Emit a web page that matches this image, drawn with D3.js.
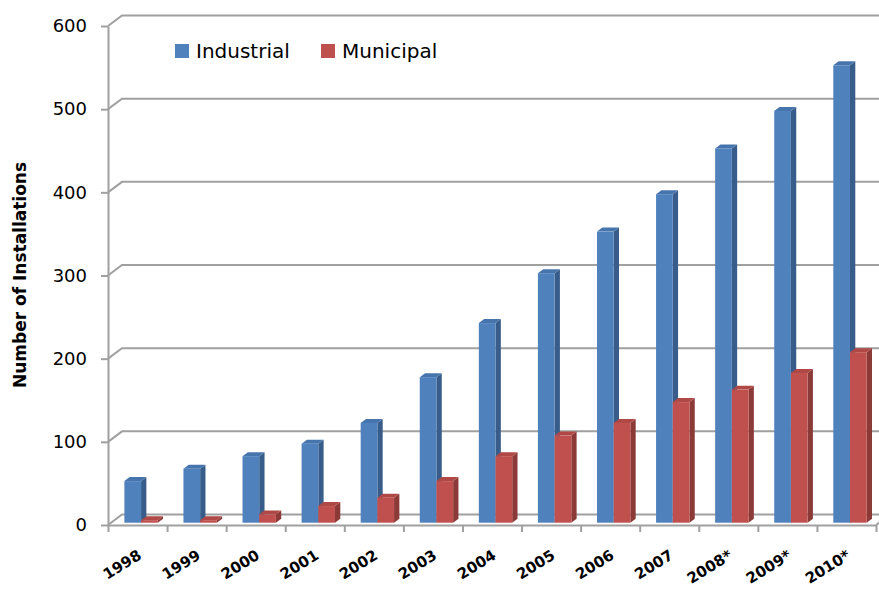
<!DOCTYPE html>
<html>
<head>
<meta charset="utf-8">
<script src="https://cdn.jsdelivr.net/npm/d3@7"></script>
<style>
  body { margin: 0; background: #fff; }
  svg { display: block; }
</style>
</head>
<body>
<div id="chart"></div>
<script>
// chart data
const categories = ['1998', '1999', '2000', '2001', '2002', '2003', '2004', '2005', '2006', '2007', '2008*', '2009*', '2010*'];
const industrial = [50, 65, 80, 95, 120, 175, 240, 300, 350, 395, 450, 495, 550];
const municipal = [3, 3, 10, 20, 30, 50, 80, 105, 120, 145, 160, 180, 205];
const seriesNames = ['Industrial', 'Municipal'];
const yTicks = [0, 100, 200, 300, 400, 500, 600];

const width = 879;
const height = 590;

// 3D look: wall depth offset, and where the bars sit inside that depth
const wallDx = 14, wallDy = -10.5;
const f1 = 0.22, f2 = 0.6;

const colors = {
    Industrial: { front: '#4f81bd', side: '#385d8a', top: '#4674ad' },
    Municipal: { front: '#c0504d', side: '#8c3a38', top: '#b04845' }
};

const svg = d3.select('#chart').append('svg')
    .attr('width', width)
    .attr('height', height);

// Scales
const y = d3.scaleLinear().domain([0, 600]).range([525, 26]);
const x0 = d3.scaleBand().domain(categories).range([108, 876]).padding(0);
const x1 = d3.scaleBand().domain(seriesNames)
    .range([x0.bandwidth() * 0.225, x0.bandwidth() * 0.79]);
const xIdx = d3.scaleLinear().domain([0, categories.length]).range([108, 876]);

// Back wall gridlines (with the little diagonal from the axis)
svg.append('g')
    .selectAll('path')
    .data(yTicks)
    .join('path')
    .attr('d', d => `M${xIdx(0)},${y(d)} L${xIdx(0) + wallDx},${y(d) + wallDy} L${width + 20},${y(d) + wallDy}`)
    .attr('fill', 'none')
    .attr('stroke', '#a0a0a0')
    .attr('stroke-width', 2);

// floor right edge
svg.append('path')
    .attr('d', `M${xIdx(categories.length)},${y(0)} L${xIdx(categories.length) + wallDx},${y(0) + wallDy}`)
    .attr('stroke', '#a0a0a0')
    .attr('stroke-width', 2);

// Bars
const bars = [];
categories.forEach((c, i) => {
    bars.push({ cat: c, series: 'Industrial', value: industrial[i] });
    bars.push({ cat: c, series: 'Municipal', value: municipal[i] });
});

const dx = wallDx * (f2 - f1);
const dy = wallDy * (f2 - f1);

const barG = svg.append('g')
    .selectAll('g')
    .data(bars)
    .join('g');

barG.each(function (d) {
    const g = d3.select(this);
    const xl = x0(d.cat) + x1(d.series) + wallDx * f1;
    const xr = xl + x1.bandwidth();
    const yt = y(d.value) + wallDy * f1;
    const yb = y(0) + wallDy * f1;
    const col = colors[d.series];

    // side face
    g.append('path')
        .attr('d', `M${xr},${yt} L${xr + dx},${yt + dy} L${xr + dx},${yb + dy} L${xr},${yb} Z`)
        .attr('fill', col.side);
    // top face
    g.append('path')
        .attr('d', `M${xl},${yt} L${xr},${yt} L${xr + dx},${yt + dy} L${xl + dx},${yt + dy} Z`)
        .attr('fill', col.top);
    // front face
    g.append('rect')
        .attr('x', xl)
        .attr('y', yt)
        .attr('width', x1.bandwidth())
        .attr('height', yb - yt)
        .attr('fill', col.front);
});

// Add y-axis
const yAxis = svg.append('g')
    .attr('transform', `translate(${xIdx(0)},0)`)
    .call(d3.axisLeft(y).tickValues(yTicks).tickSize(7).tickSizeOuter(0).tickPadding(14));
yAxis.select('.domain').attr('stroke', '#a0a0a0').attr('stroke-width', 2);
yAxis.selectAll('.tick line').attr('stroke', '#a0a0a0').attr('stroke-width', 2);
yAxis.selectAll('.tick text')
    .attr('font-family', 'DejaVu Sans')
    .attr('font-size', '18px')
    .attr('fill', '#000');

// Add x-axis (ticks between categories)
const xAxis = svg.append('g')
    .attr('transform', `translate(0,${y(0)})`)
    .call(d3.axisBottom(xIdx).tickValues(d3.range(categories.length + 1)).tickSize(7).tickSizeOuter(0).tickFormat(''));
xAxis.select('.domain').attr('stroke', '#a0a0a0').attr('stroke-width', 2);
xAxis.selectAll('.tick line').attr('stroke', '#a0a0a0').attr('stroke-width', 2);

// category labels, rotated
svg.append('g')
    .selectAll('text')
    .data(categories)
    .join('text')
    .attr('transform', d => `translate(${x0(d) + x0.bandwidth() / 2 + 5},${y(0) + 33}) rotate(-32)`)
    .attr('text-anchor', 'end')
    .attr('font-family', 'DejaVu Sans')
    .attr('font-weight', 'bold')
    .attr('font-size', '15px')
    .attr('fill', '#000')
    .text(d => d);

// y-axis title
svg.append('text')
    .attr('transform', `translate(26,275) rotate(-90)`)
    .attr('text-anchor', 'middle')
    .attr('font-family', 'DejaVu Sans')
    .attr('font-weight', 'bold')
    .attr('font-size', '17px')
    .attr('fill', '#000')
    .text('Number of Installations');

// Legend
const legendX = [175, 321];
const legend = svg.append('g')
    .selectAll('g')
    .data(seriesNames)
    .join('g')
    .attr('transform', (d, i) => `translate(${legendX[i]},44)`);
legend.append('rect')
    .attr('width', 14)
    .attr('height', 14)
    .attr('fill', d => colors[d].front);
legend.append('text')
    .attr('x', 21)
    .attr('y', 14)
    .attr('font-family', 'DejaVu Sans')
    .attr('font-size', '20px')
    .attr('fill', '#000')
    .text(d => d);
</script>
</body>
</html>
